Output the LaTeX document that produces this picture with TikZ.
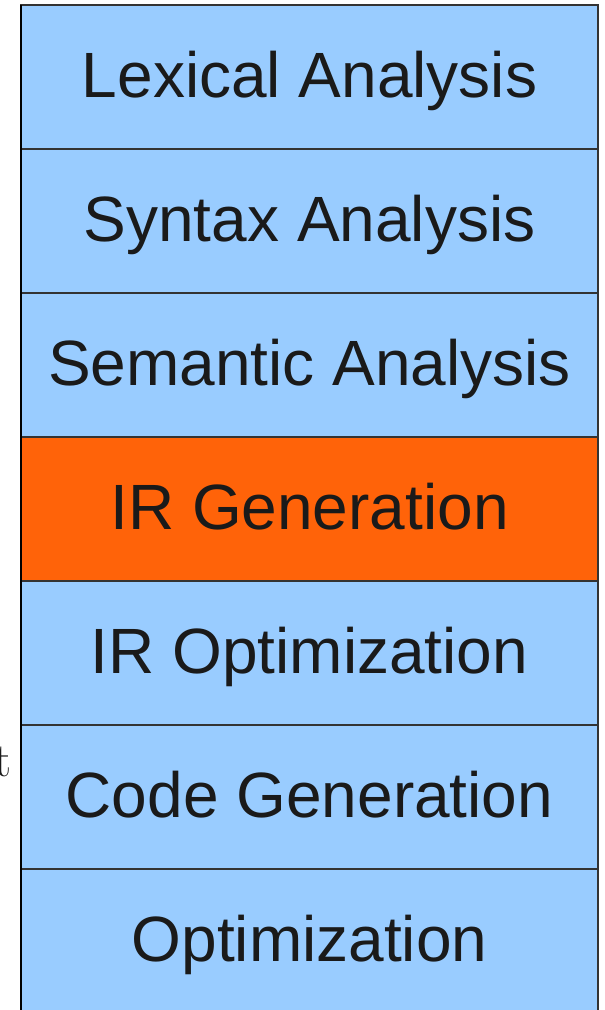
\documentclass[tikz,border=0pt]{standalone}
\usepackage{fontspec}
\setmainfont{Liberation Sans}
\newfontfamily\lmfont{Latin Modern Roman}
\definecolor{rowblue}{HTML}{99CCFF}
\definecolor{roworange}{HTML}{FF6309}
\definecolor{rowline}{HTML}{333333}
\definecolor{txt}{HTML}{1A1A1A}
\begin{document}
\begin{tikzpicture}[x=1pt,y=-1pt,
  stage/.style={draw=rowline,line width=1.3pt,fill=rowblue,minimum width=577pt,minimum height=144pt,inner sep=0pt,outer sep=0pt,anchor=north west},
  hot/.style={stage,fill=roworange},
  lbl/.style={font=\fontsize{64}{64}\selectfont,text=txt,anchor=base,inner sep=0pt}]
\useasboundingbox (0,0) rectangle (605,1010);
\node[stage] (r1) at (21,5) {};
\node[stage] (r2) at (21,149) {};
\node[stage] (r3) at (21,293) {};
\node[hot]   (r4) at (21,437) {};
\node[stage] (r5) at (21,581) {};
\node[stage] (r6) at (21,725) {};
\node[stage] (r7) at (21,869) {};
\draw[black,line width=1.5pt] (r1.north west) -- (r7.south west);
\node[lbl] (t1) at (309.5,97) {Lexical Analysis};
\node[lbl] (t2) at (309.5,241) {Syntax Analysis};
\node[lbl] (t3) at (309.5,385) {Semantic Analysis};
\node[lbl] (t4) at (309.5,529) {IR Generation};
\node[lbl] (t5) at (309.5,673) {IR Optimization};
\node[lbl] (t6) at (309.5,817) {Code Generation};
\node[lbl] (t7) at (309.5,961) {Optimization};
\node[font=\lmfont\fontsize{48}{48}\selectfont,text=txt,anchor=base east,inner sep=0pt] (frag) at (12,776) {t};
\end{tikzpicture}
\end{document}
